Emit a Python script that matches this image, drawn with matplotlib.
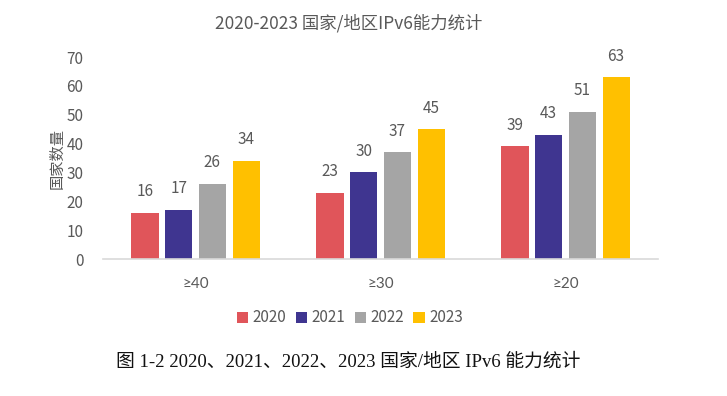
import matplotlib
matplotlib.use("Agg")
import matplotlib.pyplot as plt
import numpy as np

plt.rcParams['font.family'] = ['Noto Sans CJK SC', 'DejaVu Sans']

categories = ["≥40", "≥30", "≥20"]
years = ["2020", "2021", "2022", "2023"]
v2020 = [16, 23, 39]
v2021 = [17, 30, 43]
v2022 = [26, 37, 51]
v2023 = [34, 45, 63]
series = [v2020, v2021, v2022, v2023]
colors = ["#E0555A", "#3F3590", "#A5A5A5", "#FFC000"]

title = "2020-2023 国家/地区IPv6能力统计"
ylabel = "国家数量"
caption = "图 1-2 2020、2021、2022、2023 国家/地区 IPv6 能力统计"

fig = plt.figure(figsize=(7.27, 3.96), dpi=100)
ax = fig.add_axes([103/727, 1-259/396, 555/727, (259-57)/396])

x = np.arange(len(categories))
step = 0.182
width = 0.146
txt = "#595959"
for i, (vals, c, yr) in enumerate(zip(series, colors, years)):
    pos = x + (i - 1.5) * step
    bars = ax.bar(pos, vals, width=width, color=c, label=yr, zorder=2)
    ax.bar_label(bars, labels=[str(v) for v in vals], padding=9,
                 fontsize=11, color=txt)

ax.set_xlim(-0.5, 2.5)
ax.set_ylim(0, 70)
ax.set_yticks(range(0, 71, 10))
ax.set_xticks(x)
ax.set_xticklabels(categories, family=['Lato', 'DejaVu Sans'])
ax.tick_params(axis='both', length=0, labelsize=11, labelcolor=txt)
ax.tick_params(axis='x', pad=13)
ax.tick_params(axis='y', pad=14)
for s in ["top", "right", "left"]:
    ax.spines[s].set_visible(False)
ax.spines["bottom"].set_color("#D9D9D9")
ax.spines["bottom"].set_linewidth(1.2)
ax.set_ylabel(ylabel, fontsize=11, color=txt, labelpad=1)

fig.text(349/727, 1-23/396, title, ha='center', va='center', fontsize=12.5, color=txt)

fig.legend(loc='center', bbox_to_anchor=(350/727, 1-318/396), ncol=4,
           frameon=False, fontsize=11, labelcolor=txt, handlelength=0.75,
           handleheight=0.75, handletextpad=0.3, columnspacing=0.6)

fig.text(348/727, 1-362/396, caption, ha='center', va='center', fontsize=13.5,
         color="#111111", family=['Liberation Serif', 'Noto Sans CJK SC'])

fig.savefig("out.png", dpi=100, facecolor='white')
